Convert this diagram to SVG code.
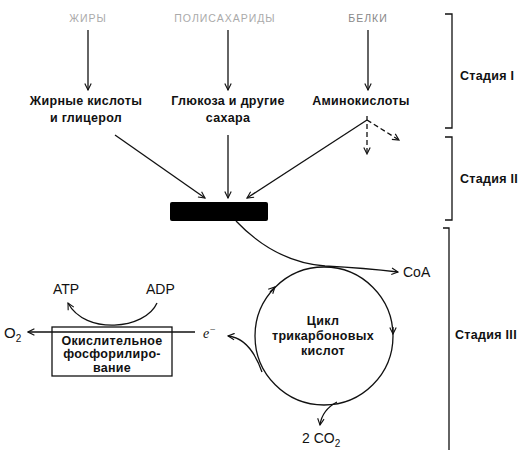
<svg xmlns="http://www.w3.org/2000/svg" width="525" height="450" viewBox="0 0 525 450">
<style>
text{font-family:"Liberation Sans",Arial,sans-serif;fill:#111}
.b{font-weight:bold;font-size:12.5px;letter-spacing:0.3px}
.r{font-size:14px}
.f{font-size:10.5px;fill:#aaa;letter-spacing:1px}
.ln{fill:none;stroke:#111;stroke-width:1.3}
.d{stroke-dasharray:5,3}
</style>
<defs>
<marker id="a" viewBox="0 0 10 10" refX="9" refY="5" markerWidth="8" markerHeight="8" markerUnits="userSpaceOnUse" orient="auto">
<path d="M1,1 L9,5 L1,9" fill="none" stroke="#111" stroke-width="1.4"/>
</marker>
</defs>
<rect width="525" height="450" fill="#fff"/>

<g id="fats"><text class="f" x="88" y="22" text-anchor="middle">ЖИРЫ</text></g>
<g id="polysaccharides"><text class="f" x="225" y="22" text-anchor="middle">ПОЛИСАХАРИДЫ</text></g>
<g id="proteins"><text class="f" x="368" y="22" text-anchor="middle" style="fill:#888">БЕЛКИ</text></g>

<g id="fattyacids"><text class="b" x="86" y="105" text-anchor="middle">Жирные кислоты</text><text class="b" x="86" y="122" text-anchor="middle">и глицерол</text></g>
<g id="glucose"><text class="b" x="228" y="105" text-anchor="middle">Глюкоза и другие</text><text class="b" x="228" y="122" text-anchor="middle">сахара</text></g>
<g id="aminoacids"><text class="b" x="361" y="105" text-anchor="middle">Аминокислоты</text></g>

<g id="acetylcoa"><rect x="170" y="202" width="98" height="19" rx="2" fill="#000"/></g>

<g id="tca"><circle cx="324" cy="336" r="69" class="ln"/>
<text class="b" x="323" y="325" text-anchor="middle">Цикл</text>
<text class="b" x="323" y="340" text-anchor="middle">трикарбоновых</text>
<text class="b" x="323" y="355" text-anchor="middle">кислот</text></g>

<g id="oxphos"><rect x="52" y="327" width="120" height="49" class="ln"/>
<text class="b" x="112" y="345" text-anchor="middle">Окислительное</text>
<text class="b" x="112" y="358" text-anchor="middle">фосфорилиро-</text>
<text class="b" x="112" y="372" text-anchor="middle">вание</text></g>

<g id="labels">
<text class="r" x="53" y="294">ATP</text>
<text class="r" x="146" y="294">ADP</text>
<text class="r" x="4" y="338" style="font-size:15px">O<tspan font-size="10" dy="4">2</tspan></text>
<text x="203" y="338" style="font-family:'Liberation Serif',serif;font-style:italic;font-size:14px">e<tspan font-size="10" dy="-5">−</tspan></text>
<text class="r" x="403" y="277">CoA</text>
<text class="r" x="302" y="443">2 CO<tspan font-size="10" dy="4">2</tspan></text>
</g>

<g id="stages">
<path class="ln" d="M445,14 H452 V128 H445"/>
<path class="ln" d="M445,137 H452 V220 H445"/>
<path class="ln" d="M443,228 H449 V450"/>
<text class="b" x="460" y="80">Стадия I</text>
<text class="b" x="460" y="183">Стадия II</text>
<text class="b" x="455" y="339">Стадия III</text>
</g>

<g id="connectors">
<path class="ln" d="M88,30 V90" marker-end="url(#a)"/>
<path class="ln" d="M228,30 V90" marker-end="url(#a)"/>
<path class="ln" d="M368,30 V90" marker-end="url(#a)"/>
<path class="ln" d="M115,135 L205,198" marker-end="url(#a)"/>
<path class="ln" d="M228,135 V198" marker-end="url(#a)"/>
<path class="ln" d="M367,120 L247,198" marker-end="url(#a)"/>
<path class="ln d" d="M367,116 V154" marker-end="url(#a)"/>
<path class="ln d" d="M367,120 L399,140" marker-end="url(#a)"/>
<path class="ln" d="M236,221 Q275,262 325,266 Q365,268 398,272" marker-end="url(#a)"/>
<path class="ln" d="M270,292 L275,287" marker-end="url(#a)"/>
<path class="ln" d="M393,327 L393,334" marker-end="url(#a)"/>
<path class="ln" d="M337,402 Q322,410 320,425" marker-end="url(#a)"/>
<path class="ln" d="M262,372 Q250,338 228,336" marker-end="url(#a)"/>
<path class="ln" d="M195,332 H28" marker-end="url(#a)"/>
<path class="ln" d="M157,303 C145,330 85,335 68,303" marker-end="url(#a)"/>
</g>
</svg>
